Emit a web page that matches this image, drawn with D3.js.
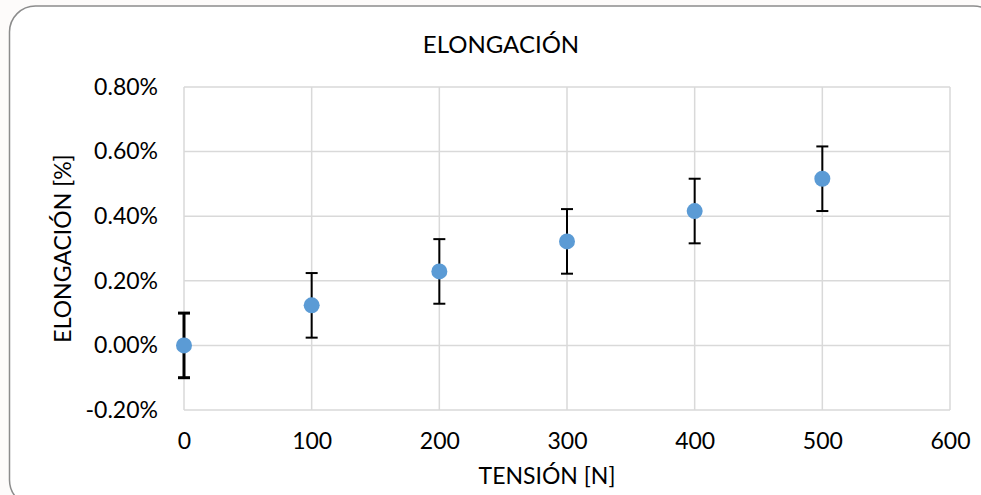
<!DOCTYPE html>
<html>
<head>
<meta charset="utf-8">
<script src="https://cdn.jsdelivr.net/npm/d3@7"></script>
<style>
  body { margin: 0; background: #fdfbfa; }
  svg { display: block; font-family: Lato, "Open Sans", sans-serif; }
</style>
</head>
<body>
<svg id="chart" width="981" height="495"></svg>
<script>
// Data
const tension = [0, 100, 200, 300, 400, 500];          // N
const elongation = [0, 0.124, 0.229, 0.322, 0.416, 0.516]; // %
const errorPlusMinus = [0.1, 0.1, 0.1, 0.1, 0.1, 0.1];  // %
const xTicks = [0, 100, 200, 300, 400, 500, 600];
const yTicks = [-0.2, 0, 0.2, 0.4, 0.6, 0.8];

const width = 981;
const height = 495;
const margin = { top: 87, right: 31, bottom: 85, left: 184 };
const fontSize = "23px";

const svg = d3.select("#chart");

// chart frame with rounded corners (right side runs off the picture)
svg.append("rect")
	.attr("x", 9.5)
	.attr("y", 6)
	.attr("width", 990)
	.attr("height", 500)
	.attr("rx", 26)
	.attr("fill", "#ffffff")
	.attr("stroke", "#8c8c8c")
	.attr("stroke-width", 1.5);

const x = d3.scaleLinear()
	.domain([0, 600])
	.range([margin.left, width - margin.right]);

const y = d3.scaleLinear()
	.domain([-0.2, 0.8])
	.range([height - margin.bottom, margin.top]);

// gridlines
const grid = svg.append("g");
grid.selectAll(".gx")
	.data(xTicks)
	.enter()
	.append("line")
	.attr("x1", (d) => x(d))
	.attr("x2", (d) => x(d))
	.attr("y1", y(-0.2))
	.attr("y2", y(0.8))
	.attr("stroke", "#d9d9d9")
	.attr("stroke-width", 1.5);
grid.selectAll(".gy")
	.data(yTicks)
	.enter()
	.append("line")
	.attr("x1", x(0))
	.attr("x2", x(600))
	.attr("y1", (d) => y(d))
	.attr("y2", (d) => y(d))
	.attr("stroke", "#d9d9d9")
	.attr("stroke-width", 1.5);

// axes (labels only, the lines come from the grid)
const xAxis = svg.append("g")
	.attr("transform", `translate(0, ${height - margin.bottom})`)
	.call(d3.axisBottom(x).tickValues(xTicks).tickSize(0).tickPadding(23));
const yAxis = svg.append("g")
	.attr("transform", `translate(${margin.left}, 0)`)
	.call(d3.axisLeft(y).tickValues(yTicks).tickSize(0).tickPadding(26)
		.tickFormat((d) => d3.format(".2f")(d).replace("−", "-") + "%"));

[xAxis, yAxis].forEach((ax) => {
	ax.select(".domain").remove();
	ax.selectAll("text")
		.style("font-size", fontSize)
		.style("font-family", "Lato, 'Open Sans', sans-serif")
		.attr("fill", "#000");
});

// error bars
const points = tension.map((t, i) => ({ t: t, v: elongation[i], e: errorPlusMinus[i] }));
const bars = svg.append("g")
	.attr("stroke", "#000")
	.attr("fill", "none");
points.forEach((d) => {
	const sw = d.t === 0 ? 3 : 2;
	const cx = x(d.t);
	bars.append("line")
		.attr("x1", cx).attr("x2", cx)
		.attr("y1", y(d.v + d.e)).attr("y2", y(d.v - d.e))
		.attr("stroke-width", sw);
	[d.v + d.e, d.v - d.e].forEach((end) => {
		bars.append("line")
			.attr("x1", cx - 6).attr("x2", cx + 6)
			.attr("y1", y(end)).attr("y2", y(end))
			.attr("stroke-width", sw);
	});
});

// markers
svg.append("g")
	.selectAll("circle")
	.data(points)
	.enter()
	.append("circle")
	.attr("cx", (d) => x(d.t))
	.attr("cy", (d) => y(d.v))
	.attr("r", 8)
	.attr("fill", "#5b9bd5");

// titles
svg.append("text")
	.attr("x", 501)
	.attr("y", 53)
	.attr("text-anchor", "middle")
	.style("font-size", "24px")
	.text("ELONGACIÓN");

svg.append("text")
	.attr("x", 547)
	.attr("y", 484)
	.attr("text-anchor", "middle")
	.style("font-size", fontSize)
	.text("TENSIÓN [N]");

svg.append("text")
	.attr("transform", `translate(71, ${(y(-0.2) + y(0.8)) / 2}) rotate(-90)`)
	.attr("text-anchor", "middle")
	.style("font-size", fontSize)
	.text("ELONGACIÓN [%]");
</script>
</body>
</html>
